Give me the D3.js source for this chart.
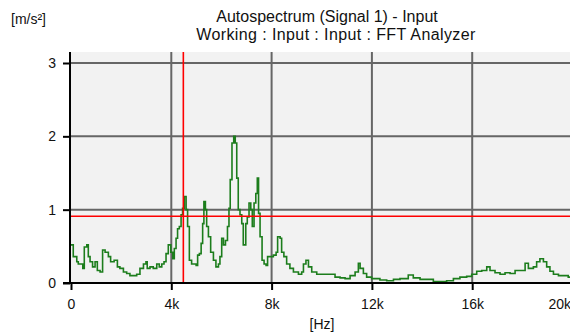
<!DOCTYPE html>
<html>
<head>
<meta charset="utf-8">
<script src="https://cdn.jsdelivr.net/npm/d3@7"></script>
<style>
  body { margin: 0; background: #fff; }
  text { font-family: "Liberation Sans", Arial, sans-serif; fill: #111; }
</style>
</head>
<body>
<div id="chart"></div>
<script>
// spectrum: frequency (Hz) and amplitude (m/s²)
const freq = [0, 90, 230, 290, 430, 470, 530, 630, 690, 760, 860, 960, 1050, 1160, 1260, 1360, 1490, 1580, 1720, 1850,
  1950, 2090, 2220, 2350, 2490, 2620, 2750, 2890, 2990, 3040, 3150, 3280, 3420, 3520, 3620, 3710, 3790, 3880, 3980, 4060,
  4120, 4190, 4250, 4320, 4390, 4450, 4520, 4590, 4650, 4720, 4810, 4910, 4990, 5050, 5120, 5190, 5250, 5300, 5360, 5410,
  5480, 5570, 5680, 5780, 5880, 5940, 6010, 6080, 6160, 6240, 6300, 6350, 6420, 6490, 6550, 6610, 6670, 6740, 6810, 6870,
  6970, 7030, 7100, 7170, 7230, 7300, 7370, 7430, 7480, 7540, 7620, 7700, 7780, 7840, 7940, 8070, 8180, 8240, 8340, 8400,
  8490, 8600, 8730, 8870, 9070, 9200, 9270, 9370, 9470, 9600, 9800, 10060, 10330, 10530, 10730, 10930, 11130, 11330, 11460, 11530,
  11660, 11790, 11990, 12320, 12590, 12860, 13120, 13450, 13650, 13920, 14180, 14450, 14720, 14980, 15250, 15510, 15780, 15980, 16180, 16380,
  16580, 16710, 16910, 17110, 17310, 17510, 17710, 17910, 18110, 18240, 18440, 18570, 18700, 18840, 18970, 19100, 19240, 19440, 19630, 19830, 20000];
const amp = [0.52, 0.36, 0.29, 0.26, 0.26, 0.2, 0.49, 0.52, 0.36, 0.29, 0.22, 0.29, 0.17, 0.15, 0.45, 0.42, 0.36, 0.29, 0.31, 0.22,
  0.2, 0.15, 0.13, 0.1, 0.1, 0.12, 0.2, 0.26, 0.29, 0.2, 0.22, 0.2, 0.26, 0.22, 0.26, 0.29, 0.4, 0.52, 0.42, 0.33,
  0.47, 0.61, 0.74, 0.77, 0.93, 1.02, 1.18, 1.0, 0.77, 0.31, 0.26, 0.26, 0.24, 0.38, 0.4, 0.54, 0.81, 1.11, 1.0, 0.77,
  0.63, 0.42, 0.31, 0.22, 0.26, 0.36, 0.61, 0.52, 0.58, 0.77, 1.02, 1.41, 1.91, 2.0, 1.91, 1.43, 1.0, 0.93, 0.81, 0.52,
  0.81, 0.9, 1.09, 1.0, 0.77, 1.09, 1.22, 1.43, 0.95, 0.63, 0.31, 0.26, 0.24, 0.36, 0.36, 0.38, 0.42, 0.63, 0.61, 0.42,
  0.36, 0.26, 0.2, 0.15, 0.12, 0.15, 0.26, 0.31, 0.22, 0.15, 0.12, 0.12, 0.12, 0.08, 0.07, 0.06, 0.1, 0.15, 0.27, 0.2,
  0.13, 0.08, 0.06, 0.04, 0.03, 0.05, 0.06, 0.11, 0.07, 0.05, 0.05, 0.02, 0.02, 0.03, 0.06, 0.08, 0.09, 0.12, 0.16, 0.17,
  0.22, 0.17, 0.14, 0.12, 0.14, 0.13, 0.17, 0.17, 0.27, 0.2, 0.22, 0.29, 0.33, 0.29, 0.22, 0.16, 0.12, 0.1, 0.1, 0.08, 0.08];

const xTicks = [0, 4000, 8000, 12000, 16000, 20000];
const xTickLabels = ['0', '4k', '8k', '12k', '16k', '20k'];
const yTicks = [0, 1, 2, 3];
const cursorFreq = 4480;
const cursorAmp = 0.91;

const width = 570, height = 332;
const plotLeft = 70, plotTop = 52, plotBottom = 283;

const svg = d3.select('#chart').append('svg')
  .attr('width', width)
  .attr('height', height);

const x = d3.scaleLinear().domain([0, 20000]).range([71, 572.5]);
const y = d3.scaleLinear().domain([0, 3.15]).range([plotBottom, plotTop]);

// plot background
svg.append('rect')
  .attr('x', plotLeft).attr('y', plotTop)
  .attr('width', width - plotLeft).attr('height', plotBottom - plotTop)
  .attr('fill', '#f2f2f2');

// grid
svg.append('g').selectAll('line')
  .data(yTicks.filter(d => d > 0))
  .enter().append('line')
  .attr('x1', plotLeft).attr('x2', width)
  .attr('y1', d => y(d)).attr('y2', d => y(d))
  .attr('stroke', '#666').attr('stroke-width', 2);

svg.append('g').selectAll('line')
  .data(xTicks.filter(d => d > 0))
  .enter().append('line')
  .attr('x1', d => x(d)).attr('x2', d => x(d))
  .attr('y1', plotTop).attr('y2', plotBottom)
  .attr('stroke', '#666').attr('stroke-width', 2);

// spectrum
const pts = freq.map((f, i) => [f, amp[i]]);
const line = d3.line()
  .x(d => x(d[0]))
  .y(d => y(d[1]))
  .curve(d3.curveStepAfter);

svg.append('path')
  .datum(pts)
  .attr('d', line)
  .attr('fill', 'none')
  .attr('stroke', '#1c7d1c')
  .attr('stroke-width', 1.6);

// cursors
svg.append('line')
  .attr('x1', plotLeft).attr('x2', width)
  .attr('y1', y(cursorAmp)).attr('y2', y(cursorAmp))
  .attr('stroke', '#ff0000').attr('stroke-width', 1.6);
svg.append('line')
  .attr('x1', x(cursorFreq)).attr('x2', x(cursorFreq))
  .attr('y1', plotTop).attr('y2', plotBottom)
  .attr('stroke', '#ff0000').attr('stroke-width', 1.6);

// axes
const yAxis = svg.append('g')
  .attr('transform', 'translate(' + plotLeft + ',0)')
  .call(d3.axisLeft(y).tickValues(yTicks).tickSize(7).tickPadding(7)
    .tickFormat(d3.format('d')));
const xAxis = svg.append('g')
  .attr('transform', 'translate(0,' + plotBottom + ')')
  .call(d3.axisBottom(x).tickValues(xTicks).tickSize(7).tickPadding(9)
    .tickFormat((d, i) => xTickLabels[i]));

[xAxis, yAxis].forEach(function (a) {
  a.select('.domain').remove();
  a.selectAll('.tick line').attr('stroke', '#000').attr('stroke-width', 2);
  a.selectAll('.tick text').attr('font-size', 14).attr('fill', '#111');
});
// last label sits at the right edge
xAxis.selectAll('.tick text')
  .filter(d => d === 20000)
  .attr('text-anchor', 'end')
  .attr('x', -2);

svg.append('line')
  .attr('x1', plotLeft).attr('x2', plotLeft)
  .attr('y1', plotTop).attr('y2', plotBottom + 1)
  .attr('stroke', '#000').attr('stroke-width', 2);
svg.append('line')
  .attr('x1', plotLeft - 7).attr('x2', width)
  .attr('y1', plotBottom).attr('y2', plotBottom)
  .attr('stroke', '#000').attr('stroke-width', 2);

// titles
svg.append('text')
  .attr('x', 327).attr('y', 22)
  .attr('text-anchor', 'middle')
  .attr('font-size', 16)
  .text('Autospectrum (Signal 1) - Input');
svg.append('text')
  .attr('x', 336).attr('y', 40)
  .attr('text-anchor', 'middle')
  .attr('font-size', 16)
  .attr('letter-spacing', 0.4)
  .text('Working : Input : Input : FFT Analyzer');

svg.append('text')
  .attr('x', 11).attr('y', 24)
  .attr('font-size', 14)
  .text('[m/s²]');

svg.append('text')
  .attr('x', 322).attr('y', 329)
  .attr('text-anchor', 'middle')
  .attr('font-size', 14)
  .text('[Hz]');
</script>
</body>
</html>
